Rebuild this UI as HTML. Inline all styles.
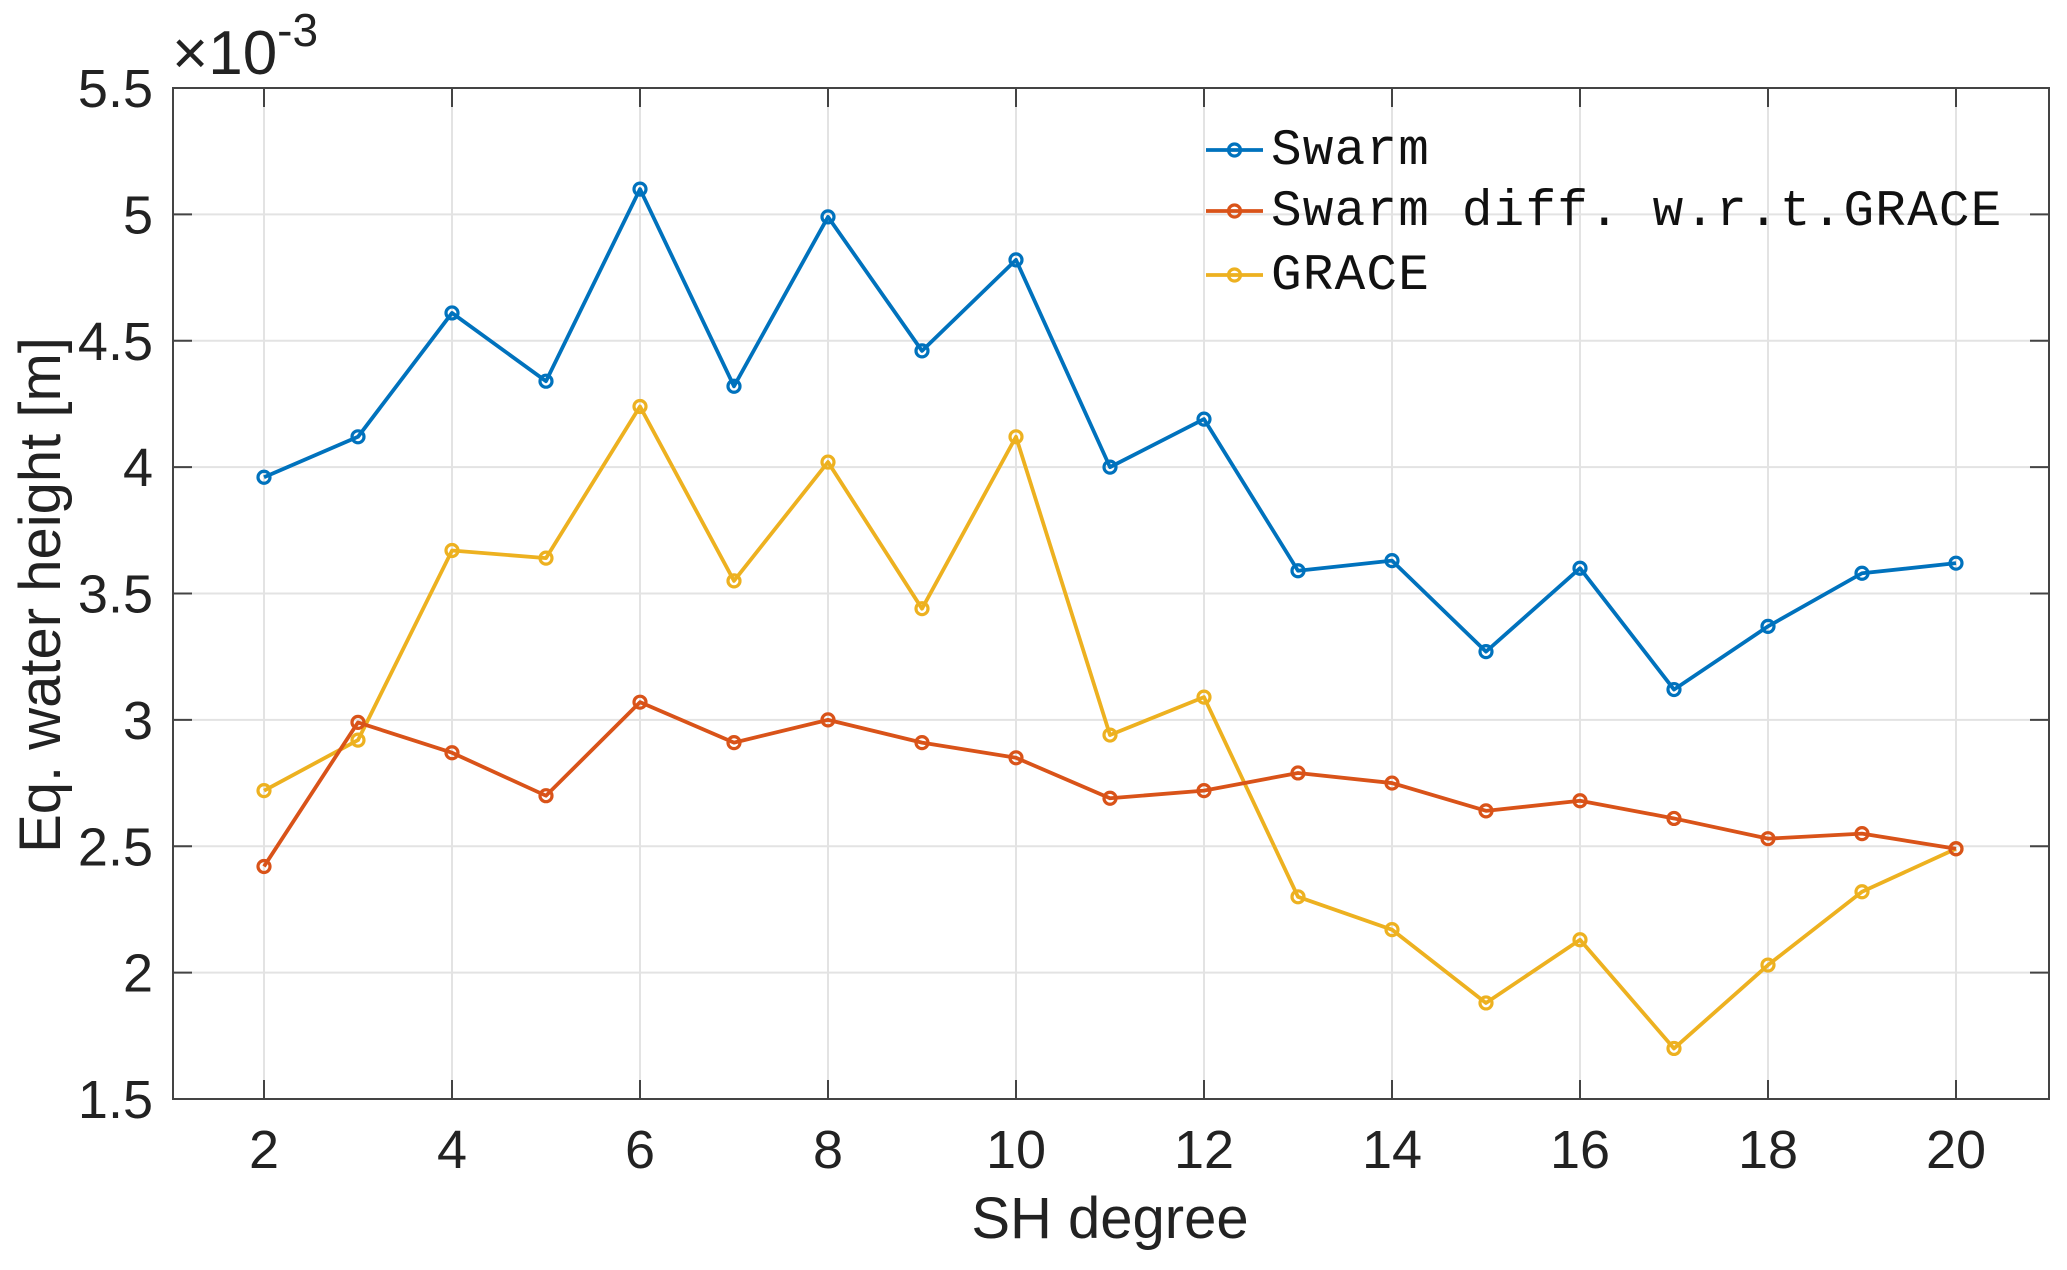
<!DOCTYPE html>
<html><head><meta charset="utf-8"><style>
html,body{margin:0;padding:0;background:#fff;}
svg{display:block;font-family:"Liberation Sans",Arial,sans-serif;}
</style></head><body>
<svg id="chart" width="2067" height="1270" viewBox="0 0 2067 1270">
<g id="grid"></g>
<g id="series"></g>
<g id="axes"></g>
<g id="legend"></g>
</svg>
<script>
const degrees = [2,3,4,5,6,7,8,9,10,11,12,13,14,15,16,17,18,19,20];
const swarm = [3.96,4.12,4.61,4.34,5.10,4.32,4.99,4.46,4.82,4.00,4.19,3.59,3.63,3.27,3.60,3.12,3.37,3.58,3.62];
const swarmDiff = [2.42,2.99,2.87,2.70,3.07,2.91,3.00,2.91,2.85,2.69,2.72,2.79,2.75,2.64,2.68,2.61,2.53,2.55,2.49];
const grace = [2.72,2.92,3.67,3.64,4.24,3.55,4.02,3.44,4.12,2.94,3.09,2.30,2.17,1.88,2.13,1.70,2.03,2.32,2.49];
const xTicks = [2,4,6,8,10,12,14,16,18,20];
const yTicks = [1.5,2,2.5,3,3.5,4,4.5,5,5.5];
const yTickLabels = ["1.5","2","2.5","3","3.5","4","4.5","5","5.5"];
const seriesNames = ["Swarm","Swarm diff. w.r.t.GRACE","GRACE"];

const L=173,R=2049,T=88,B=1099;
const NS="http://www.w3.org/2000/svg";
function xs(v){return 264+(v-2)*(1956-264)/18;}
function ys(v){return B-(v-1.5)*(B-T)/4;}
function mk(tag,attrs,parent){const e=document.createElementNS(NS,tag);for(const k in attrs)e.setAttribute(k,attrs[k]);parent.appendChild(e);return e;}
const grid=document.getElementById('grid'),axes=document.getElementById('axes'),ser=document.getElementById('series'),leg=document.getElementById('legend');

xTicks.forEach(t=>{
  const g=mk('line',{x1:xs(t),x2:xs(t),y1:T,y2:B,stroke:'#e3e3e3','stroke-width':2},grid);
  
  
  mk('line',{x1:xs(t),x2:xs(t),y1:B,y2:B-19,stroke:'#444','stroke-width':2},axes);
  mk('line',{x1:xs(t),x2:xs(t),y1:T,y2:T+19,stroke:'#444','stroke-width':2},axes);
  const tx=mk('text',{x:xs(t),y:1168,'text-anchor':'middle','font-size':54,fill:'#222'},axes);
  tx.textContent=t;
  
  
});
yTicks.forEach((t,i)=>{
  const g=mk('line',{x1:L,x2:R,y1:ys(t),y2:ys(t),stroke:'#e3e3e3','stroke-width':2},grid);
  
  
  mk('line',{x1:L,x2:L+19,y1:ys(t),y2:ys(t),stroke:'#444','stroke-width':2},axes);
  mk('line',{x1:R,x2:R-19,y1:ys(t),y2:ys(t),stroke:'#444','stroke-width':2},axes);
  const tx=mk('text',{x:153,y:ys(t)+19,'text-anchor':'end','font-size':54,fill:'#222'},axes);
  tx.textContent=yTickLabels[i];
  
  
});
const box=mk('rect',{x:L,y:T,width:R-L,height:B-T,fill:'none',stroke:'#444','stroke-width':2},axes);



const xl=mk('text',{x:1110,y:1238,'text-anchor':'middle','font-size':58,fill:'#222'},axes);
xl.textContent='SH degree';


const yl=mk('text',{x:0,y:0,'text-anchor':'middle','font-size':58,fill:'#222',transform:'translate(60,595) rotate(-90)'},axes);
yl.textContent='Eq. water height [m]';


const ex=mk('text',{x:172,y:74,'font-size':62,fill:'#222'},axes);
ex.innerHTML='×10<tspan dy="-28" font-size="46">-3</tspan>';



const colors=['#0072BD','#D95319','#EDB120'];
const data=[swarm,swarmDiff,grace];
const snames=['swarm-line','swarm-diff-line','grace-line'];
[2,0,1].forEach(si=>{
  const g=mk('g',{},ser);
  
  
  const pts=degrees.map((d,i)=>xs(d)+','+ys(data[si][i])).join(' ');
  mk('polyline',{points:pts,fill:'none',stroke:colors[si],'stroke-width':3.8,'stroke-linejoin':'round'},g);
  degrees.forEach((d,i)=>{
    const c=mk('circle',{cx:xs(d),cy:ys(data[si][i]),r:6,fill:'none',stroke:colors[si],'stroke-width':3.2},g);
    
    
  });
});

const legY=[150,211,275];
seriesNames.forEach((n,i)=>{
  const g=mk('g',{},leg);
  
  
  mk('line',{x1:1206,x2:1263,y1:legY[i],y2:legY[i],stroke:colors[i],'stroke-width':3.8},g);
  mk('circle',{cx:1234.5,cy:legY[i],r:6,fill:'none',stroke:colors[i],'stroke-width':3.2},g);
  const t=mk('text',{x:1271,y:legY[i]+14,'font-size':51,'letter-spacing':1.2,fill:'#111','font-family':'"Liberation Mono","Courier New",monospace'},g);
  t.textContent=n;
});
</script>
</body></html>
